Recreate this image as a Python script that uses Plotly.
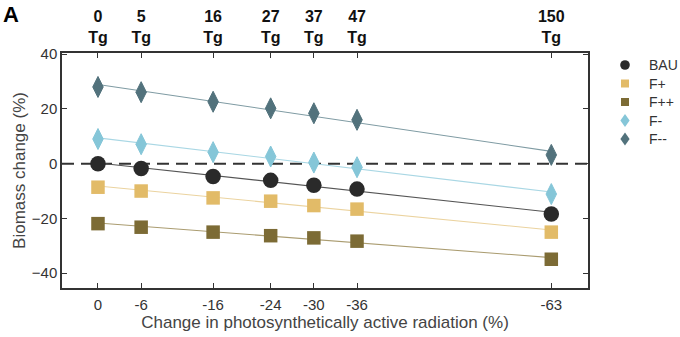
import numpy as np
import plotly.graph_objects as go

par_change = [0, -6, -16, -24, -30, -36, -63]
aerosol_tg = ["0", "5", "16", "27", "37", "47", "150"]
series_names = ["BAU", "F+", "F++", "F-", "F--"]
bau = [0.0, -1.8, -4.7, -6.1, -7.9, -9.3, -18.4]
f_plus = [-8.6, -10.0, -12.5, -13.7, -15.3, -16.6, -25.0]
f_plusplus = [-21.9, -23.2, -25.0, -26.3, -27.1, -28.3, -34.9]
f_minus = [9.0, 7.1, 4.2, 2.6, 0.4, -1.3, -11.1]
f_minusminus = [28.0, 26.1, 22.6, 20.2, 18.4, 16.0, 3.2]
y_ticks = [-40, -20, 0, 20, 40]

series_values = [bau, f_plus, f_plusplus, f_minus, f_minusminus]
colors = ["#2a2a2a", "#e2bb68", "#7c6b35", "#85c6d8", "#52727c"]
line_colors = ["#555555", "#ebd39f", "#aa9c70", "#a9d7e4", "#7f9ba3"]
symbols = ["circle", "square", "square", "diamond-tall", "diamond-tall"]
sizes = [15.5, 13.5, 13.5, 15, 15]
outline = [0, 0, 0, 1, 1]

W, H = 680, 337
L, R, T, B = 62, 92, 53, 49
PW, PH = W - L - R, H - T - B


def px(xp):
    return (xp - L) / PW


def py(yp):
    return (H - B - yp) / PH


fig = go.Figure()
xr = [5, -68.1]

# zero dashed line
fig.add_trace(go.Scatter(x=xr, y=[0, 0], mode="lines",
                         line=dict(color="#333333", width=2, dash="12px,7px"),
                         showlegend=False, hoverinfo="skip"))

x = np.array(par_change, dtype=float)
for vals, lc in zip(series_values, line_colors):
    k, b = np.polyfit(x, np.array(vals), 1)
    xs = np.array([x.max(), x.min()])
    fig.add_trace(go.Scatter(x=xs, y=k * xs + b, mode="lines",
                             line=dict(color=lc, width=1.1),
                             showlegend=False, hoverinfo="skip"))

for name, vals, c, s, sz, ow in zip(series_names, series_values, colors, symbols, sizes, outline):
    fig.add_trace(go.Scatter(x=par_change, y=vals, mode="markers", name=name,
                             marker=dict(color=c, symbol=s, size=sz,
                                         line=dict(width=ow, color=c)),
                             showlegend=False))

# invisible trace for top axis
fig.add_trace(go.Scatter(x=par_change, y=[None] * len(par_change), xaxis="x2",
                         mode="markers", showlegend=False, hoverinfo="skip"))

# custom legend (markers as pixel-sized shapes, labels as text)
leg_x_marker, leg_x_text = 625, 647
leg_y = [65, 83.5, 102, 120.5, 139]
shapes = []
annotations = []
for name, c, s, yy in zip(series_names, colors, symbols, leg_y):
    common = dict(xref="paper", yref="paper", xsizemode="pixel", ysizemode="pixel",
                  xanchor=px(leg_x_marker), yanchor=py(yy),
                  fillcolor=c, line=dict(width=0), layer="above")
    if s == "circle":
        shapes.append(dict(type="circle", x0=-4.8, x1=4.8, y0=-4.8, y1=4.8, **common))
    elif s == "square":
        shapes.append(dict(type="rect", x0=-4, x1=4, y0=-4, y1=4, **common))
    else:
        shapes.append(dict(type="path", path="M0,6.5 L4.6,0 L0,-6.5 L-4.6,0 Z", **common))
    annotations.append(dict(text=name, x=px(leg_x_text), y=py(yy), xref="paper", yref="paper",
                            xanchor="left", yanchor="middle", showarrow=False,
                            font=dict(size=14, color="#333333")))

annotations.append(dict(text="<b>A</b>", x=px(1), y=py(0), xref="paper", yref="paper",
                        xanchor="left", yanchor="top", showarrow=False,
                        font=dict(size=22, color="black")))

axis_color = "#333333"
fig.update_layout(
    width=W, height=H,
    margin=dict(l=L, r=R, t=T, b=B),
    paper_bgcolor="white", plot_bgcolor="white",
    font=dict(family="Liberation Sans, Arial, sans-serif", size=15, color="#333333"),
    showlegend=False,
    xaxis=dict(range=xr, tickvals=par_change, ticktext=[str(v) for v in par_change],
               ticks="inside", ticklen=5, tickcolor=axis_color, tickwidth=1,
               showline=True, linecolor=axis_color, linewidth=1.5, mirror=True,
               showgrid=False, zeroline=False, automargin=False,
               tickfont=dict(size=15, color="#333333"), ticklabelstandoff=2,
               title=dict(text="Change in photosynthetically active radiation (%)",
                          font=dict(size=17, color="#444444"), standoff=3)),
    xaxis2=dict(range=xr, overlaying="x", side="top", tickvals=par_change,
                ticktext=["<b>%s<br>Tg</b>" % t for t in aerosol_tg],
                ticks="inside", ticklen=5, tickcolor=axis_color,
                showgrid=False, zeroline=False, showline=False, automargin=False,
                tickfont=dict(size=16, color="#111111"), ticklabelstandoff=6),
    yaxis=dict(range=[-45.4, 40.4], tickvals=y_ticks, ticks="inside", ticklen=5,
               tickcolor=axis_color, showline=True, linecolor=axis_color,
               linewidth=1.5, mirror="ticks", showgrid=False, zeroline=False,
               automargin=False, tickfont=dict(size=15, color="#333333"),
               title=dict(text="Biomass change (%)", font=dict(size=17, color="#444444"),
                          standoff=2)),
    shapes=shapes,
    annotations=annotations,
)

fig.write_html("out.html", config={"displayModeBar": False},
               post_script="document.body.style.margin='0';document.body.style.padding='0';")
